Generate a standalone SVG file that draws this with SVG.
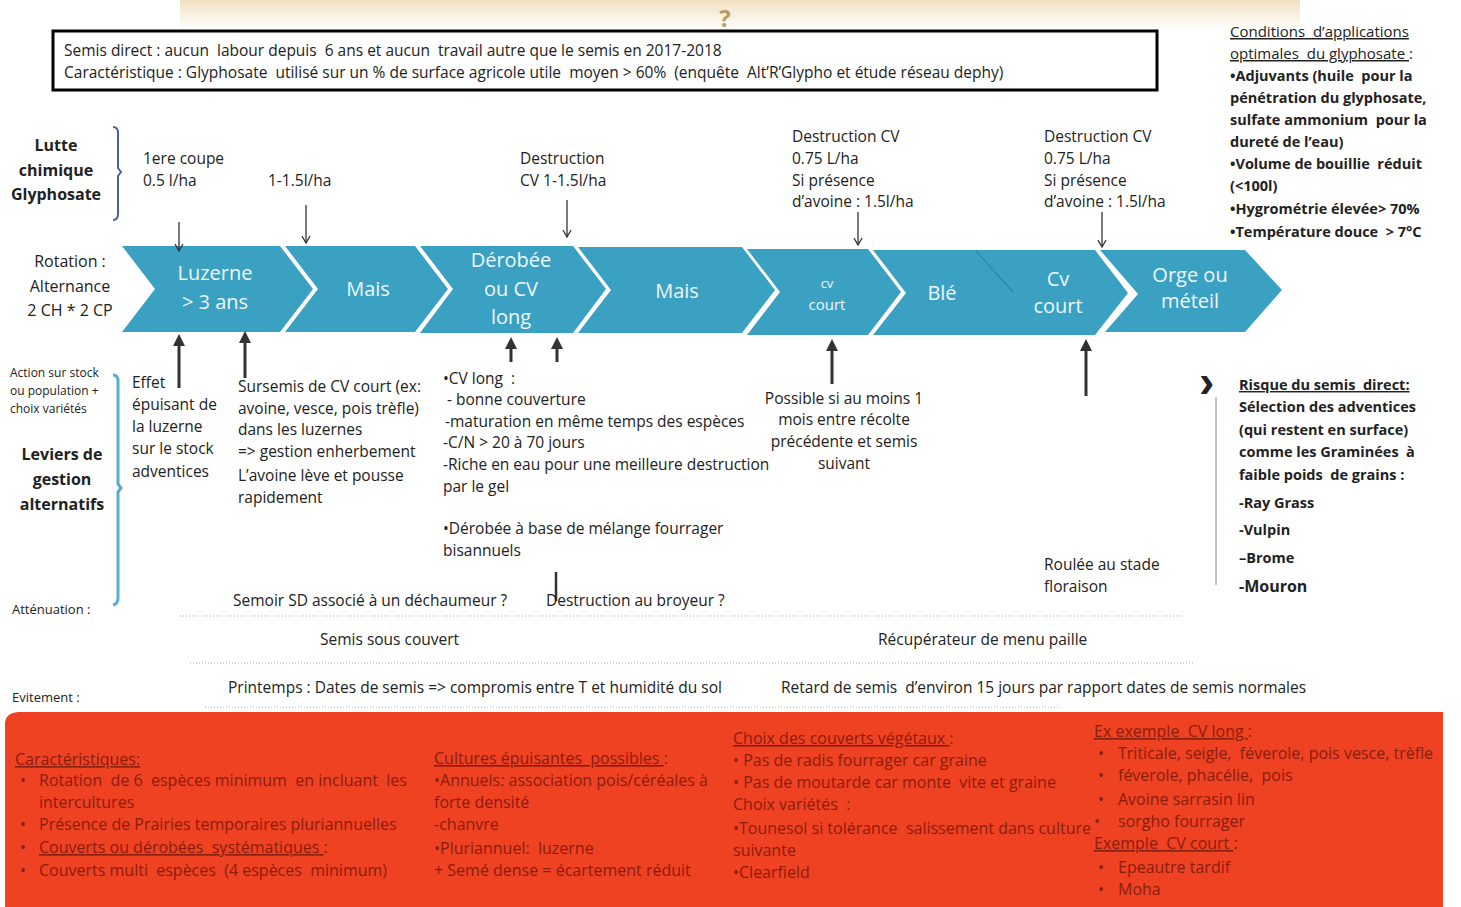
<svg xmlns="http://www.w3.org/2000/svg" width="1461" height="907" viewBox="0 0 1461 907" xml:space="preserve">
<defs>
<style>
text{font-family:"Open Sans","Liberation Sans",Arial,sans-serif;fill:#222;font-size:15.5px;white-space:pre}
.b{font-weight:bold;font-size:14.5px}
.lbl{font-size:16px;text-anchor:middle}
.sm{font-size:12px}
.chev{fill:#3ba1c3}
.ct{fill:#eef8fb;font-size:20px;text-anchor:middle}
.red text{fill:#8a1c0c;font-size:16px}
.u{text-decoration:underline}
.thin{stroke:#333;stroke-width:1.3;fill:none;marker-end:url(#vh)}
.thick{stroke:#333;stroke-width:3;fill:none;marker-end:url(#th)}
.dot{stroke:#aaa;stroke-width:1;stroke-dasharray:1 2}
</style>
<marker id="vh" viewBox="0 0 10 10" refX="9" refY="5" markerWidth="10" markerHeight="10" markerUnits="userSpaceOnUse" orient="auto">
<path d="M2,1 L9,5 L2,9" fill="none" stroke="#333" stroke-width="1.3"/>
</marker>
<marker id="th" viewBox="0 0 10 10" refX="5" refY="5" markerWidth="12" markerHeight="12" markerUnits="userSpaceOnUse" orient="auto">
<path d="M0,0 L10,5 L0,10 Z" fill="#333"/>
</marker>
<linearGradient id="topg" x1="0" y1="0" x2="0" y2="1">
<stop offset="0" stop-color="#f0e0c0"/>
<stop offset="1" stop-color="#ffffff"/>
</linearGradient>
</defs>
<rect width="1461" height="907" fill="#fff"/>
<rect x="180" y="0" width="1120" height="30" fill="url(#topg)"/>
<text x="725" y="27" style="font-size:24px;fill:#b89a68;text-anchor:middle;font-weight:bold">?</text>

<g id="header">
<rect x="53" y="31" width="1104" height="59" fill="#fff" stroke="#000" stroke-width="3"/>
<text x="64" y="56" xml:space="preserve">Semis direct : aucun  labour depuis  6 ans et aucun  travail autre que le semis en 2017-2018</text>
<text x="64" y="78" xml:space="preserve">Caractéristique : Glyphosate  utilisé sur un % de surface agricole utile  moyen &gt; 60%  (enquête  Alt’R’Glypho et étude réseau dephy)</text>
</g>

<g id="conditions">
<text x="1230" y="37" class="u" style="font-size:15px" xml:space="preserve">Conditions  d’applications</text>
<text x="1230" y="59" style="font-size:15px" xml:space="preserve"><tspan class="u">optimales  du glyphosate </tspan>:</text>
<text x="1230" y="81" class="b" xml:space="preserve">•Adjuvants (huile  pour la</text>
<text x="1230" y="103" class="b">pénétration du glyphosate,</text>
<text x="1230" y="125" class="b" xml:space="preserve">sulfate ammonium  pour la</text>
<text x="1230" y="147" class="b">dureté de l’eau)</text>
<text x="1230" y="169" class="b" xml:space="preserve">•Volume de bouillie  réduit</text>
<text x="1230" y="191" class="b">(&lt;100l)</text>
<text x="1230" y="214" class="b">•Hygrométrie élevée&gt; 70%</text>
<text x="1230" y="237" class="b" xml:space="preserve">•Température douce  &gt; 7°C</text>
</g>

<g id="lutte">
<text x="56" y="151" class="lbl" font-weight="bold">Lutte</text>
<text x="56" y="176" class="lbl" font-weight="bold">chimique</text>
<text x="56" y="200" class="lbl" font-weight="bold">Glyphosate</text>
<path d="M113,127 Q118,127 118,133 V168 L121,172 L118,176 V214 Q118,220 113,220" fill="none" stroke="#4a5fa8" stroke-width="2"/>
</g>

<g id="rotation-label">
<text x="70" y="267" class="lbl">Rotation :</text>
<text x="70" y="292" class="lbl">Alternance</text>
<text x="70" y="316" class="lbl">2 CH * 2 CP</text>
</g>

<g id="leviers">
<text x="10" y="377" class="sm">Action sur stock</text>
<text x="10" y="395" class="sm">ou population +</text>
<text x="10" y="413" class="sm">choix variétés</text>
<text x="62" y="460" class="lbl" font-weight="bold">Leviers de</text>
<text x="62" y="485" class="lbl" font-weight="bold">gestion</text>
<text x="62" y="510" class="lbl" font-weight="bold">alternatifs</text>
<path d="M113,375 Q118,375 118,381 V484 L121,488 L118,492 V598 Q118,604 113,605" fill="none" stroke="#56b0cc" stroke-width="3"/>
<text x="12" y="614" style="font-size:13px">Atténuation :</text>
<text x="12" y="702" style="font-size:13px">Evitement :</text>
</g>

<g id="chevrons">
<g id="c-luzerne"><path class="chev" d="M122,246 H280 L313,289 L280,332 H122 L155,289 Z"/>
<text class="ct" x="215" y="280">Luzerne</text><text class="ct" x="215" y="309">&gt; 3 ans</text></g>
<g id="c-mais1"><path class="chev" d="M285,246 H415 L448,289 L415,332 H285 L318,289 Z"/>
<text class="ct" x="368" y="296">Mais</text></g>
<g id="c-derobee"><path class="chev" d="M420,246 H573 L606,289 L573,333 H420 L453,289 Z"/>
<text class="ct" x="511" y="267">Dérobée</text><text class="ct" x="511" y="296">ou CV</text><text class="ct" x="511" y="324">long</text></g>
<g id="c-mais2"><path class="chev" d="M578,247 H742 L775,290 L742,333 H578 L611,290 Z"/>
<text class="ct" x="677" y="298">Mais</text></g>
<g id="c-cvcourt1"><path class="chev" d="M747,249 H868 L901,292 L868,335 H747 L780,292 Z"/>
<text class="ct" x="827" y="288" style="font-size:13px">cv</text><text class="ct" x="827" y="310" style="font-size:15px">court</text></g>
<g id="c-ble"><path class="chev" d="M873,250 H1095 L1128,293 L1095,335 H873 L906,293 Z"/>
<line x1="976" y1="251" x2="1013" y2="292" stroke="#2b86a6" stroke-width="1.2"/>
<text class="ct" x="942" y="300">Blé</text>
<text class="ct" x="1058" y="286">Cv</text><text class="ct" x="1058" y="313">court</text></g>
<g id="c-orge"><path class="chev" d="M1100,250 H1245 L1282,290 L1245,332 H1105 L1138,294 Z"/>
<text class="ct" x="1190" y="282">Orge ou</text><text class="ct" x="1190" y="308">méteil</text></g>
</g>

<g id="glypho-labels">
<text x="143" y="164">1ere coupe</text>
<text x="143" y="186">0.5 l/ha</text>
<text x="268" y="186">1-1.5l/ha</text>
<text x="520" y="164">Destruction</text>
<text x="520" y="186">CV 1-1.5l/ha</text>
<text x="792" y="142">Destruction CV</text>
<text x="792" y="164">0.75 L/ha</text>
<text x="792" y="186">Si présence</text>
<text x="792" y="207">d’avoine : 1.5l/ha</text>
<text x="1044" y="142">Destruction CV</text>
<text x="1044" y="164">0.75 L/ha</text>
<text x="1044" y="186">Si présence</text>
<text x="1044" y="207">d’avoine : 1.5l/ha</text>
</g>

<g id="connectors">
<line class="thin" x1="179" y1="222" x2="179" y2="251"/>
<line class="thin" x1="306" y1="205" x2="306" y2="243"/>
<line class="thin" x1="567" y1="200" x2="567" y2="237"/>
<line class="thin" x1="858" y1="212" x2="858" y2="245"/>
<line class="thin" x1="1102" y1="212" x2="1102" y2="247"/>
<line class="thick" x1="179" y1="388" x2="179" y2="340"/>
<line class="thick" x1="245" y1="378" x2="245" y2="337"/>
<line class="thick" x1="511" y1="362" x2="511" y2="343"/>
<line class="thick" x1="557" y1="362" x2="557" y2="343"/>
<line class="thick" x1="832" y1="384" x2="832" y2="345"/>
<line class="thick" x1="1086" y1="396" x2="1086" y2="345"/>
<line x1="556" y1="572" x2="556" y2="601" stroke="#333" stroke-width="2.5"/>
</g>

<g id="levier-texts">
<text x="132" y="388">Effet</text>
<text x="132" y="410">épuisant de</text>
<text x="132" y="432">la luzerne</text>
<text x="132" y="454">sur le stock</text>
<text x="132" y="477">adventices</text>
<text x="238" y="392">Sursemis de CV court (ex:</text>
<text x="238" y="414">avoine, vesce, pois trèfle)</text>
<text x="238" y="435">dans les luzernes</text>
<text x="238" y="457">=&gt; gestion enherbement</text>
<text x="238" y="481">L’avoine lève et pousse</text>
<text x="238" y="503">rapidement</text>
<text x="443" y="384" xml:space="preserve">•CV long  :</text>
<text x="447" y="405">- bonne couverture</text>
<text x="445" y="427">-maturation en même temps des espèces</text>
<text x="443" y="448">-C/N &gt; 20 à 70 jours</text>
<text x="443" y="470">-Riche en eau pour une meilleure destruction</text>
<text x="443" y="492">par le gel</text>
<text x="443" y="534">•Dérobée à base de mélange fourrager</text>
<text x="443" y="556">bisannuels</text>
<text x="844" y="404" text-anchor="middle">Possible si au moins 1</text>
<text x="844" y="425" text-anchor="middle">mois entre récolte</text>
<text x="844" y="447" text-anchor="middle">précédente et semis</text>
<text x="844" y="469" text-anchor="middle">suivant</text>
<text x="1044" y="570">Roulée au stade</text>
<text x="1044" y="592">floraison</text>
</g>

<g id="risque">
<text x="1199" y="397" style="font-size:46px;font-weight:bold;font-family:'Liberation Sans',sans-serif">›</text>
<line x1="1216" y1="397" x2="1216" y2="585" stroke="#888" stroke-width="1"/>
<text x="1239" y="390" class="b u" xml:space="preserve">Risque du semis  direct:</text>
<text x="1239" y="412" class="b">Sélection des adventices</text>
<text x="1239" y="435" class="b">(qui restent en surface)</text>
<text x="1239" y="457" class="b" xml:space="preserve">comme les Graminées  à</text>
<text x="1239" y="480" class="b" xml:space="preserve">faible poids  de grains :</text>
<text x="1239" y="508" class="b">-Ray Grass</text>
<text x="1239" y="535" class="b">-Vulpin</text>
<text x="1239" y="563" class="b">–Brome</text>
<text x="1239" y="592" class="b" style="font-size:16px">-Mouron</text>
</g>

<g id="lower-rows">
<text x="233" y="606">Semoir SD associé à un déchaumeur ?</text>
<text x="546" y="606">Destruction au broyeur ?</text>
<line class="dot" x1="180" y1="616" x2="1185" y2="616"/>
<text x="320" y="645">Semis sous couvert</text>
<text x="878" y="645">Récupérateur de menu paille</text>
<line class="dot" x1="190" y1="663" x2="1195" y2="663"/>
<text x="228" y="693">Printemps : Dates de semis =&gt; compromis entre T et humidité du sol</text>
<text x="781" y="693" xml:space="preserve">Retard de semis  d’environ 15 jours par rapport dates de semis normales</text>
<line class="dot" x1="205" y1="707" x2="1060" y2="707"/>
</g>

<g id="red-box" class="red">
<path d="M5,722 Q6,713 18,712 H1443 V907 H5 Z" fill="#ef4223"/>
<text x="15" y="765" class="u">Caractéristiques:</text>
<text x="20" y="786">•</text><text x="39" y="786" xml:space="preserve">Rotation  de 6  espèces minimum  en incluant  les</text>
<text x="39" y="808">intercultures</text>
<text x="20" y="830">•</text><text x="39" y="830">Présence de Prairies temporaires pluriannuelles</text>
<text x="20" y="853">•</text><text x="39" y="853" xml:space="preserve"><tspan class="u">Couverts ou dérobées  systématiques </tspan>:</text>
<text x="20" y="876">•</text><text x="39" y="876" xml:space="preserve">Couverts multi  espèces  (4 espèces  minimum)</text>

<text x="434" y="764" xml:space="preserve"><tspan class="u">Cultures épuisantes  possibles </tspan>:</text>
<text x="434" y="786">•Annuels: association pois/céréales à</text>
<text x="434" y="808">forte densité</text>
<text x="434" y="830">-chanvre</text>
<text x="434" y="854" xml:space="preserve">•Pluriannuel:  luzerne</text>
<text x="434" y="876">+ Semé dense = écartement réduit</text>

<text x="733" y="744" xml:space="preserve"><tspan class="u">Choix des couverts végétaux </tspan>:</text>
<text x="733" y="766">• Pas de radis fourrager car graine</text>
<text x="733" y="788" xml:space="preserve">• Pas de moutarde car monte  vite et graine</text>
<text x="733" y="810" xml:space="preserve">Choix variétés  :</text>
<text x="733" y="834" xml:space="preserve">•Tounesol si tolérance  salissement dans culture</text>
<text x="733" y="856">suivante</text>
<text x="733" y="878">•Clearfield</text>

<text x="1094" y="737" xml:space="preserve"><tspan class="u">Ex exemple  CV long </tspan>:</text>
<text x="1098" y="759">•</text><text x="1118" y="759" xml:space="preserve">Triticale, seigle,  féverole, pois vesce, trèfle</text>
<text x="1098" y="781">•</text><text x="1118" y="781" xml:space="preserve">féverole, phacélie,  pois</text>
<text x="1098" y="805">•</text><text x="1118" y="805">Avoine sarrasin lin</text>
<text x="1094" y="827">•</text><text x="1118" y="827">sorgho fourrager</text>
<text x="1094" y="849" xml:space="preserve"><tspan class="u">Exemple  CV court </tspan>:</text>
<text x="1098" y="873">•</text><text x="1118" y="873">Epeautre tardif</text>
<text x="1098" y="895">•</text><text x="1118" y="895">Moha</text>
</g>
</svg>
